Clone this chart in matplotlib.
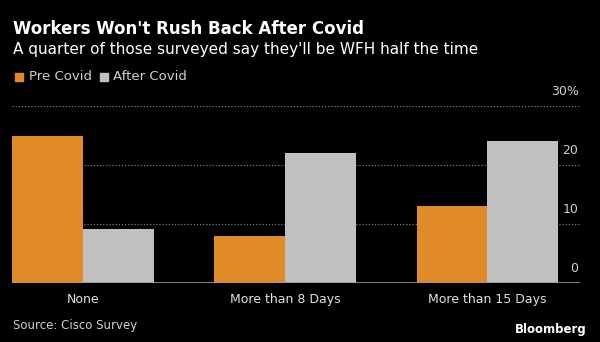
import numpy as np
from matplotlib import pyplot as plt

# chart data
categories = ['None', 'More than 8 Days', 'More than 15 Days']
pre_covid = [25.0, 7.9, 13.0]
after_covid = [9.1, 22.1, 24.1]
y_ticks = [0, 10, 20, 30]
y_tick_labels = ['0', '10', '20', '30%']

orange = '#E08B27'
grey = '#C0C0C0'
plt.rcParams['font.family'] = ['DejaVu Sans']

fig = plt.figure(figsize=(6, 3.42), dpi=100, facecolor='black')
ax = fig.add_axes([0.02, 0.1725, 0.947, 0.5175], facecolor='black')

x = np.arange(len(categories))
w = 0.35
ax.bar(x - w / 2, pre_covid, w, color=orange, zorder=2)
ax.bar(x + w / 2, after_covid, w, color=grey, zorder=2)

ax.set_xlim(-0.352, 2.46)
ax.set_ylim(0, 30)
for t in y_ticks[1:]:
    ax.axhline(t, color='#7a7a7a', lw=0.9, ls=(0, (1, 1.5)), zorder=1)
ax.axhline(0, color='#9a9a9a', lw=1.2, zorder=3)
for t, lab in zip(y_ticks, y_tick_labels):
    ax.text(0.997, t + 1.4, lab, transform=ax.get_yaxis_transform(), ha='right', va='bottom',
            color='#d0d0d0', fontsize=9)

ax.set_xticks(x)
ax.set_xticklabels(categories, color='#e0e0e0', fontsize=9)
ax.tick_params(axis='x', length=0, pad=7)
ax.set_yticks([])
for s in ax.spines.values():
    s.set_visible(False)

fig.text(0.021, 0.915, "Workers Won't Rush Back After Covid", color='white', fontsize=12,
         fontweight='bold', va='center')
fig.text(0.021, 0.855, "A quarter of those surveyed say they'll be WFH half the time", color='white',
         fontsize=11, va='center')

# legend
fig.patches.append(plt.Rectangle((15 / 600, 1 - 81 / 342), 8 / 600, 8 / 342, color=orange,
                                 transform=fig.transFigure, figure=fig))
fig.text(29 / 600, 1 - 77 / 342, 'Pre Covid', color='#d0d0d0', fontsize=9.5, va='center')
fig.patches.append(plt.Rectangle((100 / 600, 1 - 81 / 342), 8 / 600, 8 / 342, color=grey,
                                 transform=fig.transFigure, figure=fig))
fig.text(113 / 600, 1 - 77 / 342, 'After Covid', color='#d0d0d0', fontsize=9.5, va='center')

fig.text(0.021, 1 - 325 / 342, 'Source: Cisco Survey', color='#d0d0d0', fontsize=8.5, va='center')
fig.text(0.978, 1 - 329 / 342, 'Bloomberg', color='white', fontsize=8.5, fontweight='bold',
         ha='right', va='center')

fig.savefig('out.png', dpi=100, facecolor='black')
